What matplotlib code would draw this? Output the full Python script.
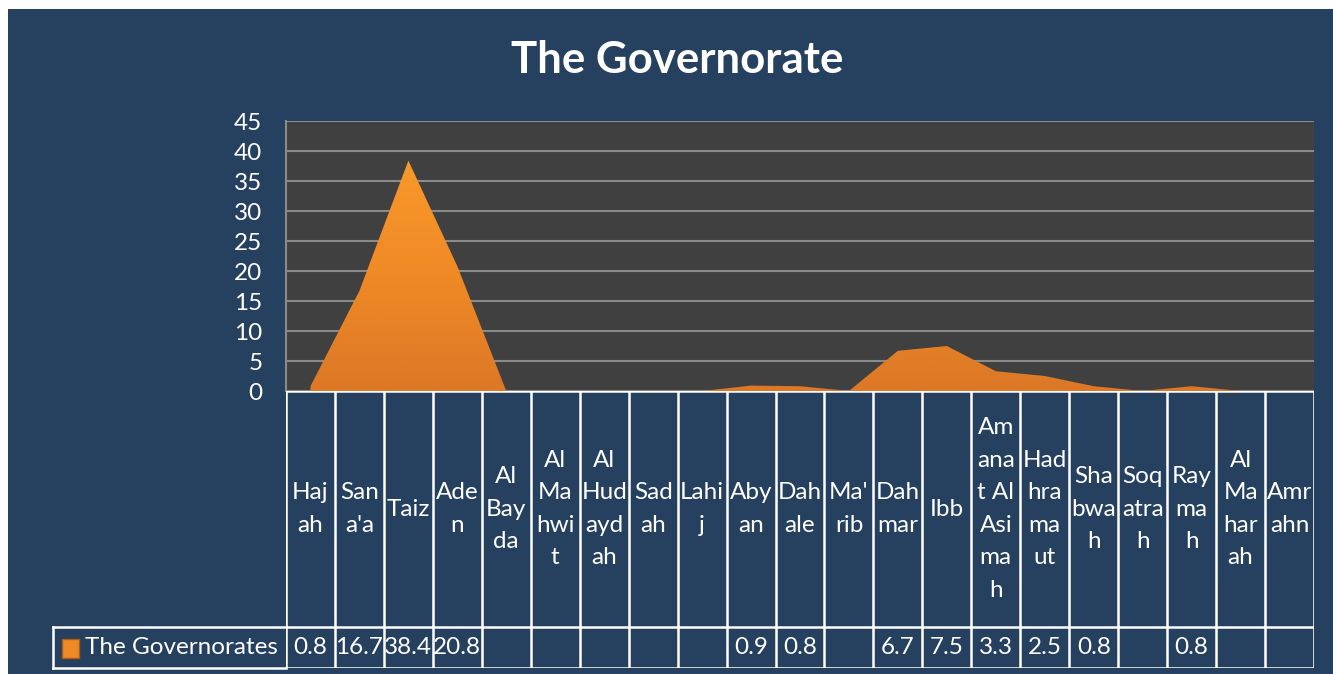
import matplotlib
matplotlib.use("Agg")
import matplotlib.pyplot as plt
import matplotlib.colors as mcolors
from matplotlib.patches import Rectangle
import numpy as np

# data (blank cells are plotted as zero by the area)
categories = ["Haj\nah", "San\na'a", "Taiz", "Ade\nn", "Al\nBay\nda", "Al\nMa\nhwi\nt",
              "Al\nHud\nayd\nah", "Sad\nah", "Lahi\nj", "Aby\nan", "Dah\nale", "Ma'\nrib",
              "Dah\nmar", "Ibb", "Am\nana\nt Al\nAsi\nma\nh", "Had\nhra\nma\nut",
              "Sha\nbwa\nh", "Soq\natra\nh", "Ray\nma\nh", "Al\nMa\nhar\nah", "Amr\nahn"]
values = [0.8, 16.7, 38.4, 20.8, None, None, None, None, None, 0.9, 0.8, None,
          6.7, 7.5, 3.3, 2.5, 0.8, None, 0.8, None, None]
series_name = "The Governorates"
yticks = [0, 5, 10, 15, 20, 25, 30, 35, 40, 45]

bg = '#264060'
plotbg = '#404040'
W, H = 1333, 674
fs = 17.5

plt.rcParams['font.family'] = ['Lato', 'DejaVu Sans']
fig = plt.figure(figsize=(W/100, H/100), dpi=100, facecolor='white')
fig.patches.append(Rectangle((8/W, 0), 1 - 8/W, 1 - 9/H, transform=fig.transFigure,
                             facecolor=bg, edgecolor='none', zorder=-10))

def fx(px):
    return px/W
def fy(py):
    return 1 - py/H

#main area plot
ax = fig.add_axes([fx(286), fy(391), fx(1314)-fx(286), fy(121)-fy(391)])
ax.set_facecolor(plotbg)
x = np.arange(len(categories))
y = np.array([v if v is not None else 0 for v in values])
poly = ax.fill_between(x, 0, y, facecolor='none', edgecolor='none', zorder=3)
cmap = mcolors.LinearSegmentedColormap.from_list('org', ['#DC7826', '#F08A26', '#F99A2A'])
grad = np.linspace(0, 1, 256).reshape(-1, 1)
img = ax.imshow(grad, extent=[-0.5, len(categories)-0.5, 0, 40], origin='lower',
                aspect='auto', cmap=cmap, zorder=2)
img.set_clip_path(poly.get_paths()[0], transform=ax.transData)
ax.set_xlim(-0.5, len(categories)-0.5)
ax.set_ylim(0, 45)
ax.set_yticks(yticks)
ax.set_xticks([])
ax.yaxis.grid(True, color='#8A8A8A', linewidth=1.5)
ax.set_axisbelow(True)
ax.tick_params(axis='y', length=0, colors='white', labelsize=fs, pad=17)
for s in ['top', 'right', 'bottom']:
    ax.spines[s].set_visible(False)
ax.spines['left'].set_color('#8A8A8A')
ax.spines['left'].set_linewidth(1.5)

#data table under the plot
tab = fig.add_axes([fx(286), fy(668), fx(1314)-fx(286), fy(391)-fy(668)], sharex=ax)
tab.set_ylim(0, 1)
tab.axis('off')
split = (668-627)/(668-391)
lw = 1.8
for i in range(len(categories)+1):
    tab.plot([i-0.5, i-0.5], [0, 1], color='white', lw=lw, solid_capstyle='projecting')
for yy in [0, split, 1]:
    tab.plot([-0.5, len(categories)-0.5], [yy, yy], color='white', lw=lw, solid_capstyle='projecting')
colw = (1314-286)/len(categories)
leg_left = -0.5 - (286-53)/colw
tab.plot([leg_left, -0.5], [0, 0], color='white', lw=lw, clip_on=False)
tab.plot([leg_left, -0.5], [split, split], color='white', lw=lw, clip_on=False)
tab.plot([leg_left, leg_left], [0, split], color='white', lw=lw, clip_on=False)
for i, (c, v) in enumerate(zip(categories, values)):
    tab.text(i, (1+split)/2, c, ha='center', va='center', color='white', fontsize=fs,
             linespacing=1.68)
    if v is not None:
        tab.text(i, split/2, f"{v:g}", ha='center', va='center', color='white', fontsize=fs)
key_x = leg_left + (62-53)/colw
tab.add_patch(Rectangle((key_x, split*0.25), 17/colw, split*0.45, facecolor='#F08A26',
                        edgecolor='#B05A18', lw=1, clip_on=False))
tab.text(leg_left + (85-53)/colw, split/2, series_name, ha='left', va='center',
         color='white', fontsize=fs, clip_on=False)

fig.text(fx(677), fy(60), "The Governorate", ha='center', va='center', color='white',
         fontsize=31.5, fontweight='bold')

fig.savefig('out.png', dpi=100, facecolor=fig.get_facecolor())
